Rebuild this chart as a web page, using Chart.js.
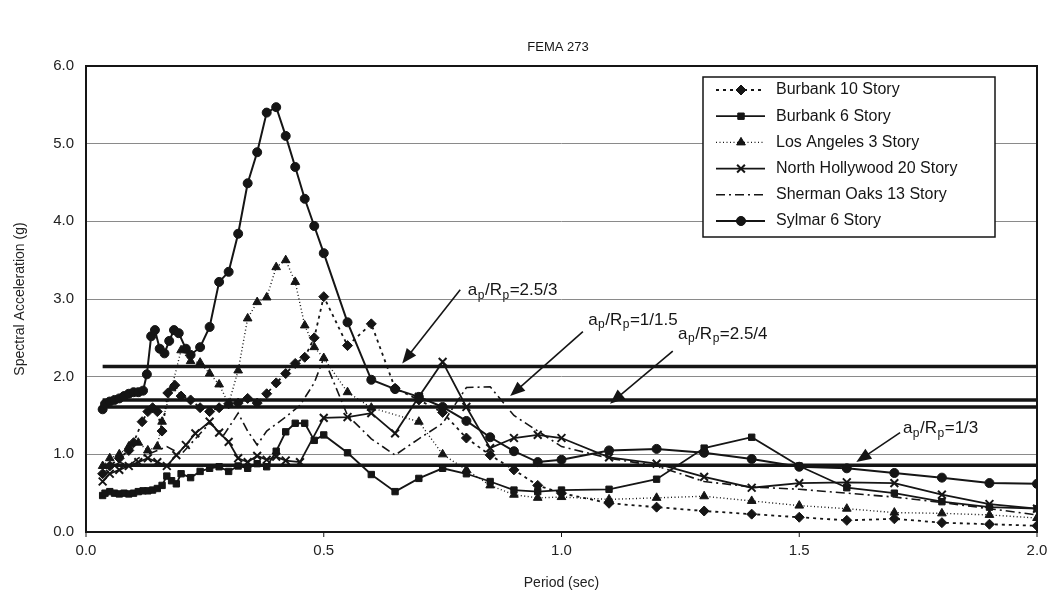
<!DOCTYPE html>
<html>
<head>
<meta charset="utf-8">
<script src="https://cdn.jsdelivr.net/npm/chart.js@4.4.1/dist/chart.umd.min.js"></script>
<style>
  html, body { margin: 0; padding: 0; background: #fff; }
  #wrap { width: 1053px; height: 596px; }
</style>
</head>
<body>
<div id="wrap"><canvas id="chart" width="1053" height="596"></canvas></div>
<script>
// tick labels
var xTicks = [0, 0.5, 1.0, 1.5, 2.0];
var yTicks = [0, 1, 2, 3, 4, 5, 6];

// Burbank 10 Story (dotted, diamond)
var burbank10T = [0.035,0.05,0.07,0.09,0.1,0.118,0.13,0.14,0.15,0.16,0.172,0.187,0.2,0.22,0.24,0.26,0.28,0.3,0.32,0.34,0.36,0.38,0.4,0.42,0.44,0.46,0.48,0.5,0.55,0.6,0.65,0.7,0.75,0.8,0.85,0.9,0.95,1.0,1.1,1.2,1.3,1.4,1.5,1.6,1.7,1.8,1.9,2.0];
var burbank10Sa = [0.75,0.85,0.95,1.05,1.15,1.42,1.55,1.6,1.55,1.3,1.79,1.89,1.75,1.7,1.6,1.55,1.6,1.65,1.66,1.72,1.66,1.78,1.92,2.04,2.17,2.25,2.5,3.03,2.4,2.68,1.85,1.7,1.54,1.21,0.99,0.8,0.6,0.5,0.37,0.32,0.27,0.23,0.19,0.15,0.17,0.12,0.1,0.08];

// Burbank 6 Story (solid, square)
var burbank6T = [0.035,0.04,0.05,0.06,0.07,0.08,0.09,0.1,0.11,0.12,0.13,0.14,0.15,0.16,0.17,0.18,0.19,0.2,0.22,0.24,0.26,0.28,0.3,0.32,0.34,0.36,0.38,0.4,0.42,0.44,0.46,0.48,0.5,0.55,0.6,0.65,0.7,0.75,0.8,0.85,0.9,0.95,1.0,1.1,1.2,1.3,1.4,1.5,1.6,1.7,1.8,1.9,2.0];
var burbank6Sa = [0.47,0.5,0.52,0.5,0.49,0.5,0.49,0.5,0.52,0.53,0.53,0.54,0.56,0.6,0.72,0.66,0.62,0.75,0.7,0.78,0.82,0.84,0.78,0.85,0.82,0.88,0.84,1.04,1.29,1.4,1.4,1.18,1.25,1.02,0.74,0.52,0.69,0.82,0.75,0.65,0.54,0.52,0.54,0.55,0.68,1.08,1.22,0.85,0.57,0.5,0.39,0.32,0.3];

// Los Angeles 3 Story (fine dotted, triangle)
var losAngelesT = [0.035,0.05,0.07,0.09,0.11,0.13,0.15,0.16,0.18,0.2,0.22,0.24,0.26,0.28,0.3,0.32,0.34,0.36,0.38,0.4,0.42,0.44,0.46,0.48,0.5,0.55,0.6,0.7,0.75,0.8,0.85,0.9,0.95,1.0,1.1,1.2,1.3,1.4,1.5,1.6,1.7,1.8,1.9,2.0];
var losAngelesSa = [0.85,0.95,1.0,1.1,1.15,1.05,1.1,1.42,1.85,2.34,2.2,2.18,2.04,1.9,1.65,2.08,2.75,2.96,3.02,3.41,3.5,3.22,2.66,2.38,2.24,1.8,1.6,1.42,1.0,0.8,0.6,0.48,0.44,0.45,0.42,0.44,0.46,0.4,0.34,0.3,0.25,0.24,0.22,0.18];

// North Hollywood 20 Story (solid, x)
var northHollywoodT = [0.035,0.05,0.07,0.09,0.11,0.13,0.15,0.17,0.19,0.21,0.23,0.26,0.28,0.3,0.32,0.34,0.36,0.38,0.4,0.42,0.45,0.5,0.55,0.6,0.65,0.7,0.75,0.8,0.85,0.9,0.95,1.0,1.1,1.2,1.3,1.4,1.5,1.6,1.7,1.8,1.9,2.0];
var northHollywoodSa = [0.65,0.75,0.8,0.85,0.9,0.95,0.9,0.85,0.99,1.12,1.27,1.42,1.28,1.16,0.95,0.9,0.98,0.93,0.97,0.92,0.9,1.47,1.48,1.53,1.27,1.74,2.19,1.61,1.08,1.21,1.25,1.21,0.96,0.88,0.71,0.57,0.63,0.64,0.63,0.48,0.36,0.3];

// Sherman Oaks 13 Story (dash-dot, no marker)
var shermanOaksT = [0.035,0.05,0.07,0.09,0.11,0.13,0.15,0.17,0.2,0.23,0.26,0.29,0.32,0.34,0.36,0.38,0.42,0.45,0.48,0.5,0.55,0.6,0.65,0.7,0.75,0.8,0.85,0.9,0.95,1.0,1.1,1.2,1.3,1.4,1.5,1.6,1.7,1.8,1.9,2.0];
var shermanOaksSa = [0.7,0.8,0.9,0.85,0.95,1.0,1.05,1.1,1.0,1.2,1.4,1.25,1.53,1.3,1.12,1.3,1.48,1.63,1.92,2.24,1.5,1.2,0.99,1.2,1.4,1.86,1.87,1.5,1.3,1.1,0.95,0.85,0.65,0.58,0.55,0.5,0.45,0.38,0.3,0.22];

// Sylmar 6 Story (solid, circle)
var sylmarT = [0.035,0.04,0.05,0.06,0.07,0.08,0.09,0.1,0.11,0.12,0.128,0.137,0.145,0.155,0.165,0.175,0.185,0.195,0.21,0.22,0.24,0.26,0.28,0.3,0.32,0.34,0.36,0.38,0.4,0.42,0.44,0.46,0.48,0.5,0.55,0.6,0.65,0.7,0.75,0.8,0.85,0.9,0.95,1.0,1.1,1.2,1.3,1.4,1.5,1.6,1.7,1.8,1.9,2.0];
var sylmarSa = [1.58,1.65,1.68,1.7,1.72,1.75,1.78,1.8,1.8,1.82,2.03,2.52,2.6,2.36,2.3,2.46,2.6,2.56,2.36,2.28,2.38,2.64,3.22,3.35,3.84,4.49,4.89,5.4,5.47,5.1,4.7,4.29,3.94,3.59,2.7,1.96,1.84,1.74,1.61,1.43,1.22,1.04,0.9,0.93,1.05,1.07,1.02,0.94,0.84,0.82,0.76,0.7,0.63,0.62];

// a_p/R_p design levels (g)
var limitLabels = ["2.5/3", "1/1.5", "2.5/4", "1/3"];
var limitValues = [2.13, 1.70, 1.61, 0.86];
var limitStart = 0.035;

function pts(t, v) {
  return t.map(function (x, i) { return { x: x, y: v[i] }; });
}

var INK = "#151515";
var FONT = "'Liberation Sans', Arial, sans-serif";

var series = [
  { label: "Burbank 10 Story", t: burbank10T, v: burbank10Sa, dash: [3, 4], width: 1.8, point: "rectRot", radius: 5 },
  { label: "Burbank 6 Story", t: burbank6T, v: burbank6Sa, dash: [], width: 1.8, point: "rect", radius: 4.5 },
  { label: "Los Angeles 3 Story", t: losAngelesT, v: losAngelesSa, dash: [1, 2.5], width: 1.4, point: "triangle", radius: 5 },
  { label: "North Hollywood 20 Story", t: northHollywoodT, v: northHollywoodSa, dash: [], width: 1.8, point: "crossRot", radius: 5.5 },
  { label: "Sherman Oaks 13 Story", t: shermanOaksT, v: shermanOaksSa, dash: [9, 4, 2, 4], width: 1.6, point: false, radius: 0 },
  { label: "Sylmar 6 Story", t: sylmarT, v: sylmarSa, dash: [], width: 2, point: "circle", radius: 4.5 }
];

var datasets = series.map(function (s) {
  return {
    label: s.label,
    data: pts(s.t, s.v),
    borderColor: INK,
    backgroundColor: INK,
    borderWidth: s.width,
    borderDash: s.dash,
    pointStyle: s.point,
    pointRadius: s.radius,
    pointBorderWidth: s.point === "crossRot" ? 2 : 1,
    pointBorderColor: INK,
    pointBackgroundColor: INK,
    tension: 0
  };
});

limitValues.forEach(function (v, i) {
  datasets.push({
    label: "limit " + limitLabels[i],
    data: [{ x: limitStart, y: v }, { x: 2.0, y: v }],
    borderColor: INK,
    borderWidth: 3.5,
    pointRadius: 0
  });
});

// callouts: text anchor (x, y) and arrow from (ax0, ay0) to (ax1, ay1), all in data units
var callouts = [
  { text: limitLabels[0], x: 0.803, y: 3.11, ax0: 0.787, ay0: 3.12, ax1: 0.665, ay1: 2.17 },
  { text: limitLabels[1], x: 1.056, y: 2.73, ax0: 1.045, ay0: 2.58, ax1: 0.892, ay1: 1.75 },
  { text: limitLabels[2], x: 1.245, y: 2.55, ax0: 1.234, ay0: 2.33, ax1: 1.102, ay1: 1.65 },
  { text: limitLabels[3], x: 1.718, y: 1.33, ax0: 1.712, ay0: 1.28, ax1: 1.62, ay1: 0.9 }
];

function drawRatio(ctx, x, y, rhs) {
  var big = "17px " + FONT, small = "12px " + FONT;
  var parts = [["a", big, 0], ["p", small, 5], ["/R", big, 0], ["p", small, 5], ["=" + rhs, big, 0]];
  ctx.textBaseline = "middle";
  ctx.textAlign = "left";
  parts.forEach(function (p) {
    ctx.font = p[1];
    ctx.fillText(p[0], x, y + p[2]);
    x += ctx.measureText(p[0]).width + 0.5;
  });
}

function drawArrow(ctx, x0, y0, x1, y1) {
  var ang = Math.atan2(y1 - y0, x1 - x0);
  var len = 15, w = 6;
  ctx.beginPath();
  ctx.moveTo(x0, y0);
  ctx.lineTo(x1 - Math.cos(ang) * len * 0.8, y1 - Math.sin(ang) * len * 0.8);
  ctx.lineWidth = 1.6;
  ctx.stroke();
  ctx.beginPath();
  ctx.moveTo(x1, y1);
  ctx.lineTo(x1 - Math.cos(ang) * len + Math.sin(ang) * w, y1 - Math.sin(ang) * len - Math.cos(ang) * w);
  ctx.lineTo(x1 - Math.cos(ang) * len - Math.sin(ang) * w, y1 - Math.sin(ang) * len + Math.cos(ang) * w);
  ctx.closePath();
  ctx.fill();
}

var extras = {
  id: "extras",
  afterDraw: function (chart) {
    var ctx = chart.ctx, xs = chart.scales.x, ys = chart.scales.y, area = chart.chartArea;
    ctx.save();
    ctx.fillStyle = INK;
    ctx.strokeStyle = INK;

    // plot frame
    ctx.lineWidth = 2;
    ctx.strokeRect(area.left, area.top, area.right - area.left, area.bottom - area.top);

    // small ticks on the period axis
    ctx.lineWidth = 1;
    xTicks.forEach(function (v) {
      var px = xs.getPixelForValue(v);
      ctx.beginPath();
      ctx.moveTo(px, area.bottom);
      ctx.lineTo(px, area.bottom + 5);
      ctx.stroke();
    });

    // callouts
    callouts.forEach(function (c) {
      drawArrow(ctx, xs.getPixelForValue(c.ax0), ys.getPixelForValue(c.ay0),
        xs.getPixelForValue(c.ax1), ys.getPixelForValue(c.ay1));
      drawRatio(ctx, xs.getPixelForValue(c.x), ys.getPixelForValue(c.y), c.text);
    });

    // legend box
    var lx = 703, ly = 77, lw = 292, lh = 160;
    ctx.fillStyle = "#fff";
    ctx.fillRect(lx, ly, lw, lh);
    ctx.lineWidth = 1.5;
    ctx.strokeStyle = INK;
    ctx.strokeRect(lx, ly, lw, lh);
    ctx.fillStyle = INK;
    series.forEach(function (s, i) {
      var yy = ly + 13 + i * 26.2;
      ctx.beginPath();
      ctx.setLineDash(s.dash);
      ctx.lineWidth = s.width;
      ctx.moveTo(lx + 13, yy);
      ctx.lineTo(lx + 62, yy);
      ctx.stroke();
      ctx.setLineDash([]);
      if (s.point) {
        ctx.lineWidth = s.point === "crossRot" ? 2 : 1;
        Chart.helpers.drawPoint(ctx, { pointStyle: s.point, radius: s.radius, rotation: 0, borderWidth: 1 }, lx + 38, yy);
        if (s.point !== "crossRot") ctx.fill();
      }
      ctx.font = "16px " + FONT;
      ctx.textAlign = "left";
      ctx.textBaseline = "middle";
      ctx.fillText(s.label, lx + 73, yy);
    });
    ctx.restore();
  }
};

new Chart(document.getElementById("chart").getContext("2d"), {
  type: "line",
  data: { datasets: datasets },
  options: {
    responsive: false,
    animation: false,
    layout: { padding: { top: 66, right: 16, left: 0, bottom: 0 } },
    plugins: {
      legend: { display: false },
      tooltip: { enabled: false },
      title: { display: false }
    },
    scales: {
      x: {
        type: "linear",
        min: 0,
        max: 2.0,
        afterFit: function (scale) {
          scale.height = 64;
          scale.paddingLeft = 0;
          scale.paddingRight = 0;
        },
        afterBuildTicks: function (scale) {
          scale.ticks = xTicks.map(function (v) { return { value: v }; });
        },
        grid: { display: false, drawTicks: false },
        border: { display: false },
        ticks: {
          padding: 10,
          color: "#222",
          font: { family: FONT, size: 15 },
          callback: function (v) { return v.toFixed(1); }
        },
        title: {
          display: true,
          text: "Period (sec)",
          color: "#222",
          font: { family: FONT, size: 14 },
          padding: { top: 4 }
        }
      },
      y: {
        min: 0,
        max: 6,
        afterFit: function (scale) {
          scale.width = 86;
          scale.paddingTop = 0;
          scale.paddingBottom = 0;
        },
        afterBuildTicks: function (scale) {
          scale.ticks = yTicks.map(function (v) { return { value: v }; });
        },
        grid: { color: "#8a8a8a", lineWidth: 1, drawTicks: false },
        border: { display: false },
        ticks: {
          padding: 12,
          color: "#222",
          font: { family: FONT, size: 15 },
          callback: function (v) { return v.toFixed(1); }
        },
        title: {
          display: true,
          text: "Spectral Acceleration (g)",
          color: "#222",
          font: { family: FONT, size: 14 },
          padding: { top: 12, bottom: 4 }
        }
      }
    }
  },
  plugins: [extras, {
    id: "heading",
    afterDraw: function (chart) {
      var ctx = chart.ctx;
      ctx.save();
      ctx.fillStyle = INK;
      ctx.font = "13px " + FONT;
      ctx.textAlign = "center";
      ctx.textBaseline = "middle";
      ctx.fillText("FEMA 273", 558, 47);
      ctx.restore();
    }
  }]
});
</script>
</body>
</html>
